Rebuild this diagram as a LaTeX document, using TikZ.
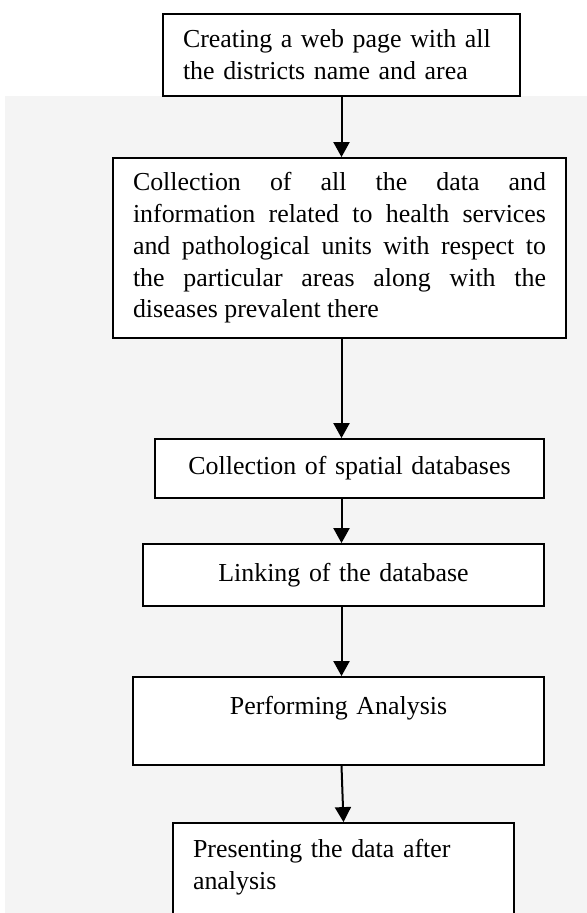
\documentclass[tikz,border=0pt]{standalone}
\usepackage{fontspec}
\setmainfont{Liberation Serif}
\usetikzlibrary{arrows.meta}
\definecolor{bggray}{RGB}{244,244,244}
\tolerance=9999
\hbadness=10000
\tikzset{
	stepbox/.style={draw, line width=0.9pt, fill=white, inner xsep=10pt, inner ysep=0pt, font=\fontsize{12.95pt}{15.9pt}\selectfont},
	flow/.style={line width=1pt, -{Triangle[length=7.5pt,width=8pt]}}
}
\begin{document}
\begin{tikzpicture}[x=0.5pt,y=-0.5pt]

\def\BGCOLOR{bggray}
	\path[use as bounding box] (0,0) rectangle (587,913);
	\clip (0,0) rectangle (587,913);
	\fill[\BGCOLOR] (5,96) rectangle (587,913);

	\node[stepbox, text width=158.5pt, minimum height=41pt, align=left] (web) at (341.5,55) {Creating a web page with all\\the districts name and area};
	\node[stepbox, text width=206.5pt, minimum height=90pt, align=justify] (collect) at (339.5,248) {Collection of all the data and\linebreak information related to health services\linebreak and pathological units with respect to\linebreak the particular areas along with the\linebreak diseases prevalent there};
	\node[stepbox, text width=174.5pt, minimum height=29.5pt, align=center] (spatial) at (349.5,468.5) {Collection of spatial databases};
	\node[stepbox, text width=180.5pt, minimum height=31pt, align=center] (link) at (343.5,575) {Linking of the database};
	\node[stepbox, text width=185.5pt, minimum height=44pt, align=center] (analysis) at (338.5,721) {Performing Analysis\\\mbox{}};
	\node[stepbox, text width=150.5pt, minimum height=57pt, align=left] (present) at (343.5,880) {Presenting the data after\\analysis\\\mbox{}};

	\draw[flow] (web.south) -- (web.south |- collect.north);
	\draw[flow] (web.south |- collect.south) -- (web.south |- spatial.north);
	\draw[flow] (web.south |- spatial.south) -- (web.south |- link.north);
	\draw[flow] (web.south |- link.south) -- (web.south |- analysis.north);
	\draw[flow] (web.south |- analysis.south) -- (present.north);

          \end{tikzpicture}
\end{document}
